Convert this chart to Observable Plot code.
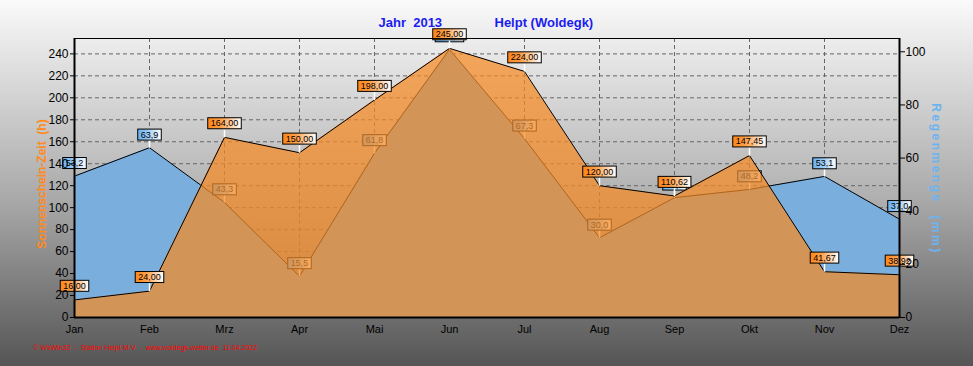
<!DOCTYPE html>
<html><head><meta charset="utf-8">
<script src="https://cdn.jsdelivr.net/npm/d3@7"></script>
<script src="https://cdn.jsdelivr.net/npm/@observablehq/plot@0.6"></script>
<style>html,body{margin:0;padding:0;background:#fff}#chart{width:973px;height:366px}</style>
</head><body><div id="chart"></div>
<script>
// ---- data ----
const months = ["Jan","Feb","Mrz","Apr","Mai","Jun","Jul","Aug","Sep","Okt","Nov","Dez"];
const sunshine = [16.00, 24.00, 164.00, 150.00, 198.00, 245.00, 224.00, 120.00, 110.62, 147.45, 41.67, 38.92];
const rain = [53.2, 63.9, 43.3, 15.5, 61.8, 100.9, 67.3, 30.0, 45.1, 48.2, 53.1, 37.0];
const leftTicks = [0, 20, 40, 60, 80, 100, 120, 140, 160, 180, 200, 220, 240];
const rightTicks = [0, 20, 40, 60, 80, 100];
const leftMax = 254;
const rightMax = 105;
const titleYear = "Jahr \u00a02013";
const titleStation = "Helpt (Woldegk)";
const leftLabel = "Sonnenschein-Zeit \u00a0(h)";
const rightLabel = "Regenmenge \u00a0(mm)";
const footer = "\u00a9 WsWin32 \u00a0- \u00a0Station Helpt M-V \u00a0- \u00a0www.woldegk-wetter.de \u00a011.04.2022";

// ---- build ----
const K = leftMax / rightMax;
const data = months.map((m, i) => ({month: m, sun: sunshine[i], rain: rain[i]}));
const fmt2 = v => v.toFixed(2).replace(".", ",");
const fmt1 = v => v.toFixed(1).replace(".", ",");
const stem = {draw(ctx) { ctx.moveTo(0, 0); ctx.lineTo(0, -8); }};
const RAIN_LBL = "#010101", SUN_LBL = "#020202", RIGHT_LBL = "#6cb4f0";

const svg = Plot.plot({
  width: 973, height: 366,
  marginLeft: 74, marginRight: 74, marginTop: 38, marginBottom: 49,
  style: {fontFamily: "'Liberation Sans', Arial, sans-serif", fontSize: "12px", color: "#000",
          background: "linear-gradient(180deg, #fafafa 0%, #a8a8a8 55%, #555555 100%)"},
  x: {type: "point", domain: months, padding: 0},
  y: {domain: [0, leftMax]},
  marks: [
    Plot.frame({fill: "url(#plotBg)"}),
    Plot.gridY(leftTicks, {stroke: "#666", strokeOpacity: 1, strokeDasharray: "4,3"}),
    Plot.gridX(months, {stroke: "#666", strokeOpacity: 1, strokeDasharray: "4,3"}),
    // rain (right axis)
    Plot.areaY(data, {x: "month", y: d => d.rain * K, fill: "#7aaedc", curve: "linear"}),
    Plot.lineY(data, {x: "month", y: d => d.rain * K, stroke: "#000", strokeWidth: 1, curve: "linear"}),
    Plot.dot(data, {x: "month", y: d => d.rain * K, symbol: stem, stroke: "#fff", fill: "none", r: 3}),
    Plot.text(data, {x: "month", y: d => d.rain * K, text: d => fmt1(d.rain), dy: -13, fontSize: 9, fill: RAIN_LBL}),
    // sunshine (left axis)
    Plot.areaY(data, {x: "month", y: "sun", fill: "#f58a24", fillOpacity: 0.72, curve: "linear"}),
    Plot.lineY(data, {x: "month", y: "sun", stroke: "#000", strokeWidth: 1, curve: "linear"}),
    Plot.dot(data, {x: "month", y: "sun", symbol: stem, stroke: "#fff", fill: "none", r: 3}),
    Plot.text(data, {x: "month", y: "sun", text: d => fmt2(d.sun), dy: -14, fontSize: 9, fill: SUN_LBL}),
    // axes
    Plot.axisY(leftTicks, {anchor: "left", tickSize: 4, tickPadding: 2, fontSize: 12, label: null}),
    Plot.axisY(rightTicks.map(v => v * K), {anchor: "right", tickSize: 5, tickPadding: 1, fontSize: 12, label: null,
      tickFormat: d => String(Math.round(d / K))}),
    Plot.axisX({tickSize: 0, tickPadding: 8, fontSize: 11, label: null}),
    Plot.frame({stroke: "#000", strokeWidth: 1}),
    Plot.ruleY([0], {stroke: "#000", strokeWidth: 2}),
    Plot.ruleX([months[0], months[months.length - 1]], {stroke: "#000", strokeWidth: 2}),
    // texts
    Plot.text([titleYear], {frameAnchor: "top-left", textAnchor: "start", lineAnchor: "middle", dx: 304, dy: -16, fill: "#1c1cf0", fontWeight: "bold", fontSize: 13}),
    Plot.text([titleStation], {frameAnchor: "top-left", textAnchor: "start", lineAnchor: "middle", dx: 420, dy: -16, fill: "#1c1cf0", fontWeight: "bold", fontSize: 13}),
    Plot.text([leftLabel], {frameAnchor: "left", textAnchor: "middle", lineAnchor: "middle", dx: -32, dy: 6, rotate: -90, fill: "#ff8a1e", fontWeight: "bold", fontSize: 12}),
    Plot.text([rightLabel], {frameAnchor: "right", textAnchor: "middle", lineAnchor: "middle", dx: 36, dy: 1, rotate: 90, fill: RIGHT_LBL, fontWeight: "bold", fontSize: 12}),
    Plot.text([footer], {frameAnchor: "bottom-left", textAnchor: "start", lineAnchor: "middle", dx: -41, dy: 30, fill: "#ff0000", fontSize: 7})
  ]
});
document.getElementById("chart").appendChild(svg);

// gradients
const NS = "http://www.w3.org/2000/svg";
const defs = d3.select(svg).insert("defs", ":first-child");
function grad(id, stops, vertical) {
  const g = defs.append("linearGradient").attr("id", id)
    .attr("x1", 0).attr("y1", 0).attr("x2", vertical ? 0 : 1).attr("y2", vertical ? 1 : 0);
  stops.forEach(([o, c]) => g.append("stop").attr("offset", o).attr("stop-color", c));
}
grad("plotBg", [[0, "#ededed"], [0.5, "#b8b8b8"], [1, "#7e7e7e"]], true);
grad("sunBox", [[0, "#ff8616"], [0.4, "#ffa04a"], [1, "#ffffff"]], false);
grad("rainBox", [[0, "#68b2f4"], [0.4, "#96c9f6"], [1, "#ffffff"]], false);

function boxify(color, gid) {
  svg.querySelectorAll(`g[fill="${color}"] text`).forEach(t => {
    const b = t.getBBox();
    const r = document.createElementNS(NS, "rect");
    r.setAttribute("x", b.x - 3);
    r.setAttribute("y", b.y - 0.5);
    r.setAttribute("width", b.width + 6);
    r.setAttribute("height", b.height + 1);
    const tr = t.getAttribute("transform");
    if (tr) r.setAttribute("transform", tr);
    r.setAttribute("fill", `url(#${gid})`);
    r.setAttribute("stroke", "#000");
    r.setAttribute("stroke-width", 1);
    t.parentNode.insertBefore(r, t);
  });
}
boxify(RAIN_LBL, "rainBox");
boxify(SUN_LBL, "sunBox");
svg.querySelectorAll(`g[fill="${RIGHT_LBL}"] text`).forEach(t => t.setAttribute("letter-spacing", "2.5px"));
</script>
</body></html>
